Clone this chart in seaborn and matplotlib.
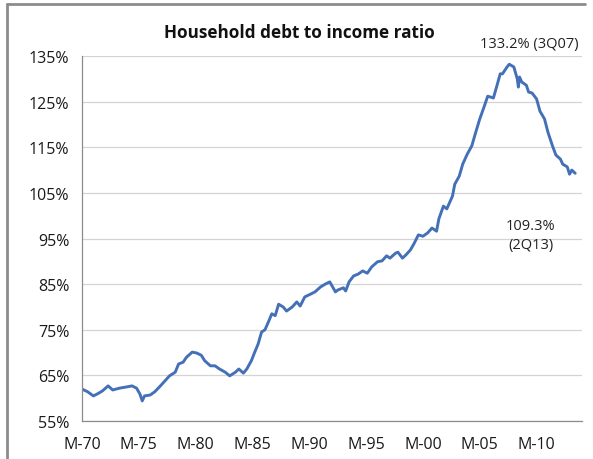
import matplotlib
matplotlib.use("Agg")
import matplotlib.pyplot as plt
import numpy as np
import pandas as pd
import seaborn as sns
from matplotlib.lines import Line2D

# values (decimal year, % of income)
years = [
    1970.0, 1970.5, 1971.0, 1971.4, 1971.8, 1972.3, 1972.7, 1973.3, 1974.0, 1974.4,
    1974.8, 1975.1, 1975.3, 1975.5, 1976.0, 1976.4, 1976.9, 1977.3, 1977.7, 1978.2,
    1978.5, 1978.9, 1979.2, 1979.7, 1980.1, 1980.5, 1980.8, 1981.3, 1981.7, 1982.1,
    1982.6, 1983.0, 1983.5, 1983.8, 1984.2, 1984.5, 1984.9, 1985.2, 1985.5, 1985.8,
    1986.1, 1986.4, 1986.7, 1987.0, 1987.3, 1987.7, 1988.0, 1988.5, 1988.9, 1989.2,
    1989.6, 1990.1, 1990.5, 1991.0, 1991.4, 1991.8, 1992.3, 1992.5, 1993.0, 1993.2,
    1993.5, 1993.9, 1994.3, 1994.7, 1995.1, 1995.5, 1996.0, 1996.4, 1996.8, 1997.1,
    1997.6, 1997.8, 1998.2, 1998.5, 1998.9, 1999.2, 1999.6, 2000.0, 2000.4, 2000.8,
    2001.2, 2001.4, 2001.8, 2002.1, 2002.6, 2002.8, 2003.2, 2003.5, 2003.9, 2004.3,
    2004.6, 2005.0, 2005.4, 2005.7, 2006.2, 2006.5, 2006.8, 2007.0, 2007.4, 2007.6,
    2008.0, 2008.3, 2008.4, 2008.5, 2008.7, 2009.1, 2009.3, 2009.6, 2010.0, 2010.3,
    2010.7, 2011.0, 2011.4, 2011.7, 2012.1, 2012.3, 2012.7, 2012.9, 2013.1, 2013.4,
]
ratio = [
    62.0, 61.4, 60.5, 61.0, 61.6, 62.7, 61.8, 62.2, 62.5, 62.7,
    62.2, 60.9, 59.4, 60.5, 60.7, 61.4, 62.7, 63.8, 64.9, 65.7,
    67.5, 67.9, 69.0, 70.1, 69.9, 69.4, 68.2, 67.1, 67.1, 66.4,
    65.7, 64.9, 65.7, 66.4, 65.5, 66.4, 68.2, 70.1, 71.9, 74.5,
    75.0, 76.7, 78.5, 78.1, 80.6, 80.0, 79.1, 80.0, 81.1, 80.2,
    82.2, 82.8, 83.3, 84.4, 85.0, 85.5, 83.3, 83.7, 84.2, 83.5,
    85.5, 86.8, 87.2, 87.9, 87.4, 88.8, 89.9, 90.1, 91.2, 90.7,
    91.8, 92.0, 90.7, 91.4, 92.5, 93.8, 95.8, 95.5, 96.2, 97.3,
    96.6, 99.3, 102.1, 101.5, 104.3, 106.9, 108.7, 111.3, 113.5, 115.3,
    117.9, 121.2, 124.0, 126.2, 125.8, 128.4, 131.1, 131.1, 132.6, 133.2,
    132.6, 130.0, 128.2, 130.4, 129.3, 128.6, 127.1, 126.9, 125.6, 122.9,
    121.2, 118.3, 115.3, 113.3, 112.4, 111.3, 110.7, 109.1, 110.0, 109.3,
]
x_ticks = [1970, 1975, 1980, 1985, 1990, 1995, 2000, 2005, 2010]
x_labels = ["M-70", "M-75", "M-80", "M-85", "M-90", "M-95", "M-00", "M-05", "M-10"]
y_ticks = [55, 65, 75, 85, 95, 105, 115, 125, 135]

df = pd.DataFrame({"year": years, "ratio": ratio})

sns.set_theme(style="white")
plt.rcParams["font.family"] = ["Open Sans", "DejaVu Sans"]

fig = plt.figure(figsize=(5.93, 4.60), dpi=100)
ax = fig.add_axes([0.1383, 0.0826, 0.8432, 0.7934])

sns.lineplot(data=df, x="year", y="ratio", ax=ax, color="#4470B8", linewidth=2.1)

ax.set_xlim(1970, 2014)
ax.set_ylim(55, 135)
ax.set_xticks(x_ticks)
ax.set_xticklabels(x_labels)
ax.set_yticks(y_ticks)
ax.set_yticklabels([f"{v}%" for v in y_ticks])
ax.set_xlabel("")
ax.set_ylabel("")

ax.grid(axis="y", color="#D4D4D4", linewidth=0.9)
ax.set_axisbelow(True)
for s in ["top", "right"]:
    ax.spines[s].set_visible(False)
for s in ["left", "bottom"]:
    ax.spines[s].set_color("#8C8C8C")
    ax.spines[s].set_linewidth(0.9)
ax.tick_params(axis="both", which="major", direction="out", length=5, width=0.9,
               color="#8C8C8C", labelsize=11.5, labelcolor="#1A1A1A", pad=4)
ax.tick_params(axis="x", pad=6)

fig.text(0.505, 0.928, "Household debt to income ratio", ha="center", va="center",
         fontsize=12.3, fontweight="bold", color="#111111")
ax.annotate("133.2% (3Q07)", xy=(2007.6, 133.2), xytext=(0.892, 0.904),
            textcoords="figure fraction", ha="center", va="center",
            fontsize=10.5, color="#222222")
ax.annotate("109.3%\n(2Q13)", xy=(2013.4, 109.3), xytext=(0.895, 0.487),
            textcoords="figure fraction", ha="center", va="center",
            fontsize=10.5, color="#222222", linespacing=1.3)

# chart-area border (top and left edges visible in the reference)
fig.add_artist(Line2D([0.012, 0.012], [0.0, 0.989], transform=fig.transFigure,
                      color="#8C8C8C", linewidth=2))
fig.add_artist(Line2D([0.012, 0.987], [0.989, 0.989], transform=fig.transFigure,
                      color="#8C8C8C", linewidth=2))

fig.savefig("out.png", dpi=100)
